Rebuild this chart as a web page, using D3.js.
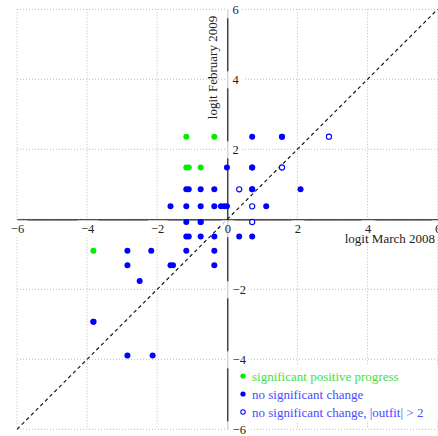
<!DOCTYPE html>
<html>
<head>
<meta charset="utf-8">
<script src="https://cdn.jsdelivr.net/npm/d3@7"></script>
<style>
  html, body { margin: 0; padding: 0; background: #fff; }
  svg { display: block; }
  text { font-family: "Liberation Serif", "DejaVu Serif", serif; }
</style>
</head>
<body>
<svg id="chart" width="438" height="436"></svg>
<script>
// Item logits: March 2008 (x) against February 2009 (y)
const progressMarch = [-1.17, -0.37, -1.17, -1.10, -0.76, -3.82];
const progressFeb   = [ 2.36,  2.36,  1.48,  1.48,  1.48, -0.90];

const stableMarch = [0.71, 1.56, 1.56,
  -0.01, 0.71, 0.71,
  -1.17, -1.10, -0.76, -0.37, 0.71, 0.71, 2.09,
  -1.62, -1.17, -0.76, -0.37, -0.18, -0.085, -0.01, 1.11,
  -1.17, -0.76, -0.76,
  -1.17, -1.10, -0.76, -0.37, 0.34, 0.71,
  -2.85, -2.17, -1.17, -0.37,
  -2.85, -1.62, -1.55, -0.37,
  -2.50,
  -3.82, -3.82,
  -2.85, -2.13];
const stableFeb = [2.36, 2.36, 2.36,
  1.48, 1.48, 1.48,
  0.857, 0.857, 0.857, 0.857, 0.857, 0.857, 0.857,
  0.37, 0.37, 0.37, 0.37, 0.37, 0.37, 0.37, 0.37,
  -0.077, -0.077, -0.077,
  -0.49, -0.49, -0.49, -0.49, -0.49, -0.49,
  -0.90, -0.90, -0.90, -0.90,
  -1.31, -1.31, -1.31, -1.31,
  -1.76,
  -2.93, -2.93,
  -3.89, -3.89];

const outfitMarch = [2.90, 1.56, 0.34, 0.71, 0.71];
const outfitFeb   = [2.36, 1.48, 0.857, 0.37, -0.077];

const xTicks = [-6, -4, -2, 0, 2, 4, 6];
const yTicks = [-6, -4, -2, 2, 4, 6];
const gridValues = [-6, -4, -2, 0, 2, 4, 6];
const diagonal = [-6, 6];

const xLabel = "logit March 2008";
const yLabel = "logit February 2009";
const legendLabels = [
  "significant positive progress",
  "no significant change",
  "no significant change, |outfit| > 2"
];

const GREEN = "#00ee00";
const BLUE = "#0000ff";

const svg = d3.select("#chart");
const x = d3.scaleLinear().domain([-6, 6]).range([17, 437.6]);
const y = d3.scaleLinear().domain([-6, 6]).range([429.3, 9.3]);

const fmt = d => (d < 0 ? "\u2212" + Math.abs(d) : String(d));

// dotted grid
const grid = svg.append("g")
  .attr("stroke", "#b8b8b8").attr("stroke-width", 0.9)
  .attr("stroke-dasharray", "1,2");
grid.selectAll("line.v").data(gridValues).join("line").attr("class", "v")
  .attr("x1", d => x(d)).attr("x2", d => x(d))
  .attr("y1", y(6)).attr("y2", y(-6));
grid.selectAll("line.h").data(gridValues).join("line").attr("class", "h")
  .attr("y1", d => y(d)).attr("y2", d => y(d))
  .attr("x1", x(-6)).attr("x2", x(6));

// identity line
svg.append("path")
  .datum(diagonal)
  .attr("d", d3.line().x(d => x(d)).y(d => y(d)))
  .attr("fill", "none").attr("stroke", "#111")
  .attr("stroke-width", 1.15).attr("stroke-dasharray", "3.6,3");

// axes through the origin
const yAxisG = svg.append("g")
  .attr("transform", `translate(${x(0)},0)`)
  .call(d3.axisRight(y).tickValues(yTicks).tickSize(0).tickSizeOuter(0)
    .tickPadding(5.3).tickFormat(fmt));
const xAxisG = svg.append("g")
  .attr("transform", `translate(0,${y(0)})`)
  .call(d3.axisBottom(x).tickValues(xTicks).tickSize(0).tickSizeOuter(0)
    .tickFormat(fmt));

[xAxisG, yAxisG].forEach(g => {
  g.select(".domain").attr("stroke", "#1a1a1a").attr("stroke-width", 1.2);
  g.selectAll(".tick text")
    .attr("font-family", "Liberation Serif, DejaVu Serif, serif")
    .attr("font-size", 12.5).attr("fill", "#222");
});
xAxisG.selectAll(".tick text").attr("y", 9.5).attr("dy", "0.35em");
yAxisG.selectAll(".tick text").attr("dy", "0.35em");

// translucent label backgrounds
xAxisG.selectAll(".tick").each(function () {
  const t = d3.select(this).select("text");
  const bb = t.node().getBBox();
  d3.select(this).insert("rect", "text")
    .attr("x", bb.x - 3.3).attr("width", bb.width + 6.6)
    .attr("y", 1).attr("height", 17)
    .attr("fill", "#fff").attr("fill-opacity", 0.78);
});
yAxisG.selectAll(".tick").each(function () {
  const t = d3.select(this).select("text");
  const bb = t.node().getBBox();
  d3.select(this).insert("rect", "text")
    .attr("x", -1.5).attr("width", bb.x + bb.width + 3.3 + 1.5)
    .attr("y", -8.5).attr("height", 17)
    .attr("fill", "#fff").attr("fill-opacity", 0.78);
});

// axis titles
svg.append("text")
  .attr("x", 435).attr("y", 238).attr("dy", "0.35em")
  .attr("text-anchor", "end").attr("font-size", 13).attr("fill", "#222")
  .text(xLabel);
svg.append("text")
  .attr("transform", `translate(217,67.5) rotate(-90)`)
  .attr("text-anchor", "middle").attr("font-size", 13).attr("fill", "#222")
  .text(yLabel);

// points
const pts = svg.append("g");
pts.selectAll("circle.stable").data(d3.zip(stableMarch, stableFeb)).join("circle")
  .attr("class", "stable")
  .attr("cx", d => x(d[0])).attr("cy", d => y(d[1])).attr("r", 3)
  .attr("fill", BLUE);
pts.selectAll("circle.outfit").data(d3.zip(outfitMarch, outfitFeb)).join("circle")
  .attr("class", "outfit")
  .attr("cx", d => x(d[0])).attr("cy", d => y(d[1])).attr("r", 2.6)
  .attr("fill", "#fff").attr("stroke", BLUE).attr("stroke-width", 1.1);
pts.selectAll("circle.progress").data(d3.zip(progressMarch, progressFeb)).join("circle")
  .attr("class", "progress")
  .attr("cx", d => x(d[0])).attr("cy", d => y(d[1])).attr("r", 3)
  .attr("fill", GREEN);

// legend
const legend = svg.append("g");
legend.append("rect")
  .attr("x", 236).attr("y", 365).attr("width", 202).attr("height", 56)
  .attr("fill", "#fff");
const legendStyles = [
  { fill: GREEN, stroke: "none", text: "#44e044" },
  { fill: BLUE, stroke: "none", text: "#4a4aff" },
  { fill: "#fff", stroke: BLUE, text: "#4a4aff" }
];
const items = legend.selectAll("g.item").data(legendLabels).join("g")
  .attr("class", "item")
  .attr("transform", (d, i) => `translate(243,${376 + i * 18})`);
items.append("circle")
  .attr("r", (d, i) => i === 2 ? 2.2 : 2.6)
  .attr("fill", (d, i) => legendStyles[i].fill)
  .attr("stroke", (d, i) => legendStyles[i].stroke)
  .attr("stroke-width", 1.1);
items.append("text")
  .attr("x", 9).attr("dy", "0.35em").attr("font-size", 13)
  .attr("fill", (d, i) => legendStyles[i].text)
  .text(d => d);
</script>
</body>
</html>
